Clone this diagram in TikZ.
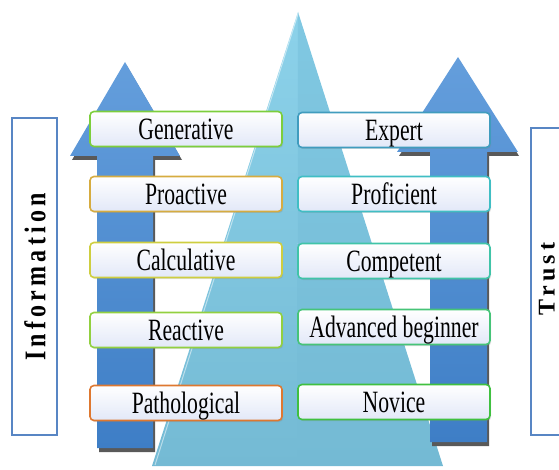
\documentclass[tikz,border=0pt]{standalone}
\usepackage{fontspec}
\usetikzlibrary{shadows}
\newfontfamily\boxfont[FakeStretch=0.7]{Liberation Serif}
\newfontfamily\infofont[FakeStretch=0.8,LetterSpace=14]{Liberation Serif}
\newfontfamily\trustfont[LetterSpace=18]{Liberation Serif}
\definecolor{arrtop}{RGB}{100,158,220}
\definecolor{arrbot}{RGB}{62,126,198}
\definecolor{trileft}{RGB}{140,210,234}
\definecolor{triright}{RGB}{128,200,226}
\definecolor{tribot}{RGB}{116,186,212}
\definecolor{boxbot}{RGB}{226,232,248}
\definecolor{labblue}{RGB}{88,134,196}
\definecolor{cGen}{RGB}{124,206,60}
\definecolor{cPro}{RGB}{214,172,64}
\definecolor{cCal}{RGB}{206,206,64}
\definecolor{cRea}{RGB}{146,208,64}
\definecolor{cPat}{RGB}{222,120,48}
\definecolor{cExp}{RGB}{64,156,190}
\definecolor{cPrf}{RGB}{64,190,196}
\definecolor{cCom}{RGB}{64,196,168}
\definecolor{cAdv}{RGB}{70,196,120}
\definecolor{cNov}{RGB}{64,192,64}
\begin{document}
\begin{tikzpicture}[x=1pt,y=-1pt,
  stage/.style={rounded corners=4pt, line width=1.6pt, minimum width=192pt,
    minimum height=35pt, inner sep=0pt, top color=white, bottom color=boxbot,
    drop shadow={shadow xshift=1.2pt, shadow yshift=-1.5pt, opacity=0.25},
    font=\boxfont\fontsize{31}{31}\selectfont, text height=21pt, text depth=0pt},
  labbox/.style={draw=labblue, line width=1.6pt, fill=white},
  labtext/.style={rotate=90, inner sep=0pt}]
\useasboundingbox (0,0) rectangle (559,470);
% label boxes
\draw[labbox] (12,118) rectangle (57,435);
\node[labtext, font=\infofont\bfseries\fontsize{30}{30}\selectfont] (info) at (35,277) {Information};
\draw[labbox] (531,128) rectangle (575,435);
\node[labtext, font=\trustfont\bfseries\fontsize{24}{24}\selectfont] (trust) at (547,279) {Trust};
% pyramid
\shade[top color=trileft, bottom color=tribot] (298,12) -- (152,466) -- (297.5,466) -- cycle;
\shade[top color=triright, bottom color=tribot] (298,12) -- (297.5,466) -- (443,466) -- cycle;
\draw[white, opacity=0.5, line width=1pt] (298,14) -- (155,465);
% arrow shadows
\fill[black!65] (127,66) -- (182,160) -- (155,160) -- (155,452) -- (99,452) -- (99,160) -- (72,160) -- cycle;
\fill[black!65] (460,61) -- (519,156) -- (489,156) -- (489,446) -- (432,446) -- (432,156) -- (399,156) -- cycle;
% arrows
\shade[top color=arrtop, bottom color=arrbot] (125,62) -- (180,156) -- (153,156) -- (153,448) -- (97,448) -- (97,156) -- (70,156) -- cycle;
\shade[top color=arrtop, bottom color=arrbot] (458,57) -- (518,152) -- (487,152) -- (487,442) -- (430,442) -- (430,152) -- (397,152) -- cycle;
% stages
\node[stage, draw=cGen] (gen) at (186,129) {Generative};
\node[stage, draw=cPro] (pro) at (186,194) {Proactive};
\node[stage, draw=cCal] (cal) at (186,260) {Calculative};
\node[stage, draw=cRea] (rea) at (186,330) {Reactive};
\node[stage, draw=cPat] (pat) at (186,403) {Pathological};
\node[stage, draw=cExp] (exp) at (394,130) {Expert};
\node[stage, draw=cPrf] (prf) at (394,194) {Proficient};
\node[stage, draw=cCom] (com) at (394,261) {Competent};
\node[stage, draw=cAdv] (adv) at (394,327) {Advanced beginner};
\node[stage, draw=cNov] (nov) at (394,402) {Novice};
\end{tikzpicture}
\end{document}
